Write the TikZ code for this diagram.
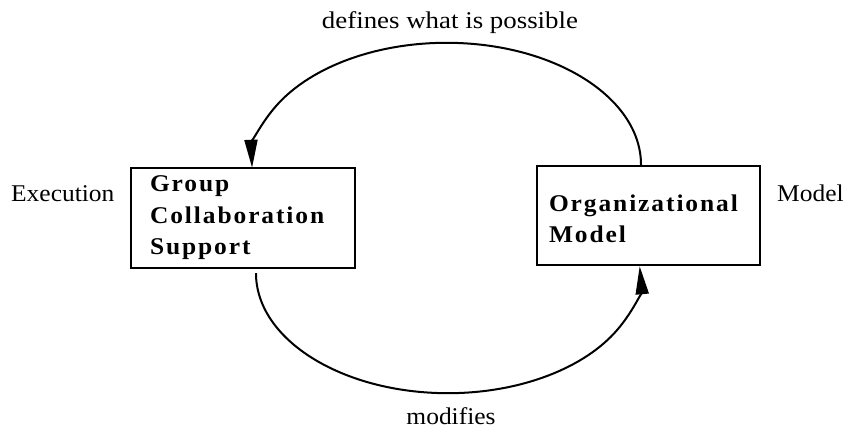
\documentclass[tikz,border=0pt]{standalone}
\usepackage{fontspec}
\setmainfont{Liberation Serif}[FakeStretch=1.06]
\newfontfamily\boxfont{Liberation Serif}[FakeStretch=1.06,LetterSpace=8]
\usetikzlibrary{arrows.meta}
\begin{document}
\begin{tikzpicture}[x=1pt,y=1pt,
  box/.style={draw, line width=2.4pt, inner ysep=4pt, align=left,
    font=\boxfont\bfseries\fontsize{24}{31.5}\selectfont},
  lbl/.style={font=\fontsize{24}{28}\selectfont, inner sep=0pt},
  conn/.style={line width=2pt, -{Triangle[length=28pt,width=13pt]}}]
\useasboundingbox (0,0) rectangle (846,430);
\node[box, minimum width=224pt, minimum height=100pt, inner xsep=19pt, text width=186pt]
  (gcs) at (243,212) {Group\\Collaboration\\Support};
\node[box, minimum width=223pt, minimum height=99pt, inner xsep=12pt, text width=199pt,
  text height=23pt, font=\boxfont\bfseries\fontsize{24}{31}\selectfont]
  (om) at (648.5,214.5) {Organizational\\Model};
\node[lbl, anchor=base west] (exec) at (11,228) {Execution};
\node[lbl, anchor=base west] (model) at (777,228) {Model};
\node[lbl, anchor=base, font=\addfontfeature{FakeStretch=1.12}\fontsize{24}{28}\selectfont] (defines) at (450,401) {defines what is possible};
\node[lbl, anchor=base] (modifies) at (451,5) {modifies};
\draw[conn] ([xshift=-7.5pt]om.north) arc[start angle=0, end angle=181.4, x radius=194.5pt, y radius=122pt];
\draw[conn] ([shift={(13pt,-4pt)}]gcs.south) arc[start angle=180, end angle=363.3, x radius=192pt, y radius=120pt];
\end{tikzpicture}
\end{document}
